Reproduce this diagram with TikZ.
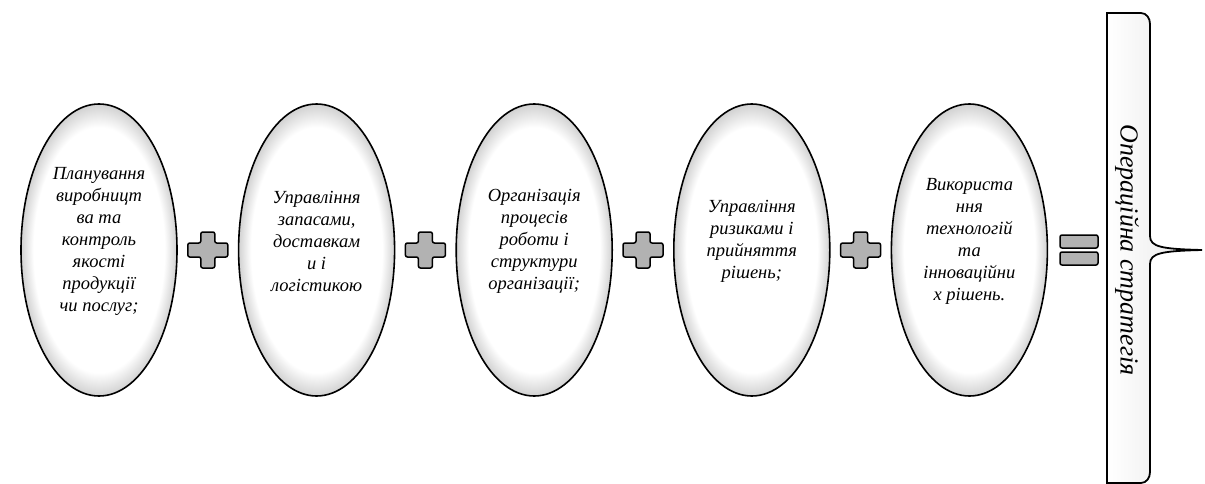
\documentclass[tikz,border=0pt]{standalone}
\usepackage{fontspec}
\setmainfont{Liberation Serif}[ItalicFont={Liberation Serif Italic}]
\newfontfamily\ovalfont{Liberation Serif Italic}
\usetikzlibrary{positioning,calc,shapes.geometric}
\pgfdeclareradialshading{ovalglow}{\pgfpoint{0bp}{0bp}}{color(0bp)=(white); color(21bp)=(white); color(25bp)=(black!18); color(50bp)=(black!18)}
\begin{document}
\begin{tikzpicture}[x=1pt,y=-1pt]

\tikzset{
	oval/.style={ellipse,draw=black,line width=1.6pt,shading=ovalglow,
		minimum width=156pt,minimum height=292pt,inner sep=0pt},
	ovaltext/.style={align=center,inner sep=0pt,yshift=9pt,
		font=\fontsize{18.5}{22}\ovalfont},
}
	\tikzset{
	pics/plusmark/.style={code={
	\draw[line width=1.5pt,fill=black!30,rounded corners=2pt]
	(-7,-18) -- (7,-18) -- (7,-7) -- (20,-7) -- (20,7) -- (7,7)
	-- (7,18) -- (-7,18) -- (-7,7) -- (-20,7) -- (-20,-7) -- (-7,-7) -- cycle;
	},
	}
	}
	\tikzset{
	pics/equalmark/.style={code={
	\draw[line width=1.5pt,fill=black!30,rounded corners=2pt]
	(-19,-15) rectangle (19,-2)
	(-19,2) rectangle (19,15);
	},
	}
	}
	\useasboundingbox (0,0) rectangle (1205,484);

	%OVALS
	\node[oval] (p1) at (99,250) {};
	\node[oval,right=60pt of p1] (p2) {};
	\node[oval,right=60pt of p2] (p3) {};
	\node[oval,right=60pt of p3] (p4) {};
	\node[oval,right=60pt of p4] (p5) {};

	\node[ovaltext] (t1) at (p1.center) {Планування\\виробницт\\ва та\\контроль\\якості\\продукції\\чи послуг;};
	\node[ovaltext] (t2) at (p2.center) {Управління\\запасами,\\доставкам\\и і\\логістикою};
	\node[ovaltext] (t3) at (p3.center) {Організація\\процесів\\роботи і\\структури\\організації;};
	\node[ovaltext] (t4) at (p4.center) {Управління\\ризиками і\\прийняття\\рішень;};
	\node[ovaltext] (t5) at (p5.center) {Використа\\ння\\технологій\\та\\інноваційни\\х рішень.};

	%PLUS AND EQUAL
	\foreach \a/\b in {p1/p2,p2/p3,p3/p4,p4/p5}
	\draw ($(\a.east)!0.5!(\b.west)$) pic {plusmark};
	\draw (1079,250) pic {equalmark};

	%RESULT BOX
	\draw[line width=1.8pt,left color=white,right color=black!10]
	(1107,13) -- (1141,13) to[out=0,in=90] (1150,24) -- (1150,236)
	.. controls (1150,247) and (1162,249) .. (1202,250)
	.. controls (1162,251) and (1150,253) .. (1150,264) -- (1150,472)
	to[out=270,in=0] (1141,483) -- (1107,483) -- cycle;
	\node[rotate=-90,font=\fontsize{26}{30}\ovalfont] (res) at (1127,250) {Операційна стратегія};
\end{tikzpicture}
\end{document}
